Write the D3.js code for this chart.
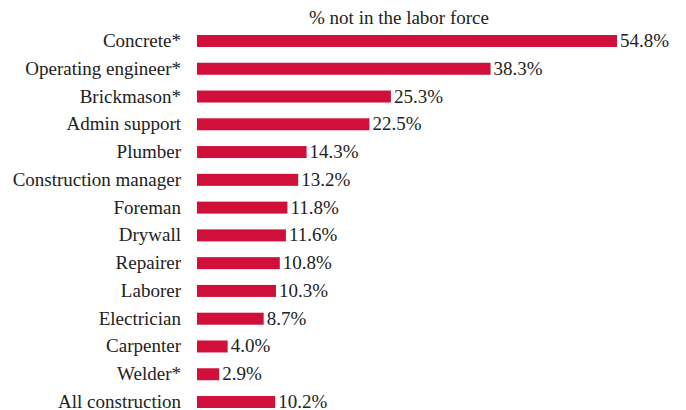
<!DOCTYPE html>
<html><head><meta charset="utf-8">
<script src="https://cdn.jsdelivr.net/npm/d3@7"></script>
<style>
body{margin:0;background:#fff;}
</style></head>
<body><svg id="c" width="686" height="410"></svg>
<script>
const categories = ["Concrete*","Operating engineer*","Brickmason*","Admin support","Plumber","Construction manager","Foreman","Drywall","Repairer","Laborer","Electrician","Carpenter","Welder*","All construction"];
const values = [54.8,38.3,25.3,22.5,14.3,13.2,11.8,11.6,10.8,10.3,8.7,4.0,2.9,10.2];
const valueLabels = ["54.8%","38.3%","25.3%","22.5%","14.3%","13.2%","11.8%","11.6%","10.8%","10.3%","8.7%","4.0%","2.9%","10.2%"];
const title = "% not in the labor force";

const svg = d3.select("#c");
const x = d3.scaleLinear().domain([0, 54.8]).range([197, 617]);
const y = d3.scaleBand().domain(categories).range([27.1, 415.9]).paddingInner(0.568).paddingOuter(0.284);
const color = "#D0103A";
const fs = 19;
const ff = "Liberation Serif";
const tc = "#222";

const data = categories.map((c,i)=>({c, v: values[i], l: valueLabels[i]}));

svg.append("text").attr("class","title").attr("x", 399).attr("y", 24).attr("text-anchor","middle")
  .attr("font-family", ff).attr("fill", tc)
  .attr("font-size", fs).text(title);

svg.selectAll("rect.bar").data(data).join("rect").attr("class","bar")
  .attr("x", x(0)).attr("y", d=>y(d.c)).attr("width", d=>x(d.v)-x(0)).attr("height", y.bandwidth())
  .attr("fill", color);

svg.selectAll("text.cat").data(data).join("text").attr("class","cat")
  .attr("font-family", ff).attr("fill", tc)
  .attr("x", 181).attr("y", d=>y(d.c)+y.bandwidth()/2 + 6)
  .attr("text-anchor","end").attr("font-size", fs).text(d=>d.c);

svg.selectAll("text.val").data(data).join("text").attr("class","val")
  .attr("font-family", ff).attr("fill", tc)
  .attr("x", d=>x(d.v)+3).attr("y", d=>y(d.c)+y.bandwidth()/2 + 6)
  .attr("font-size", fs).text(d=>d.l);
</script></body></html>
